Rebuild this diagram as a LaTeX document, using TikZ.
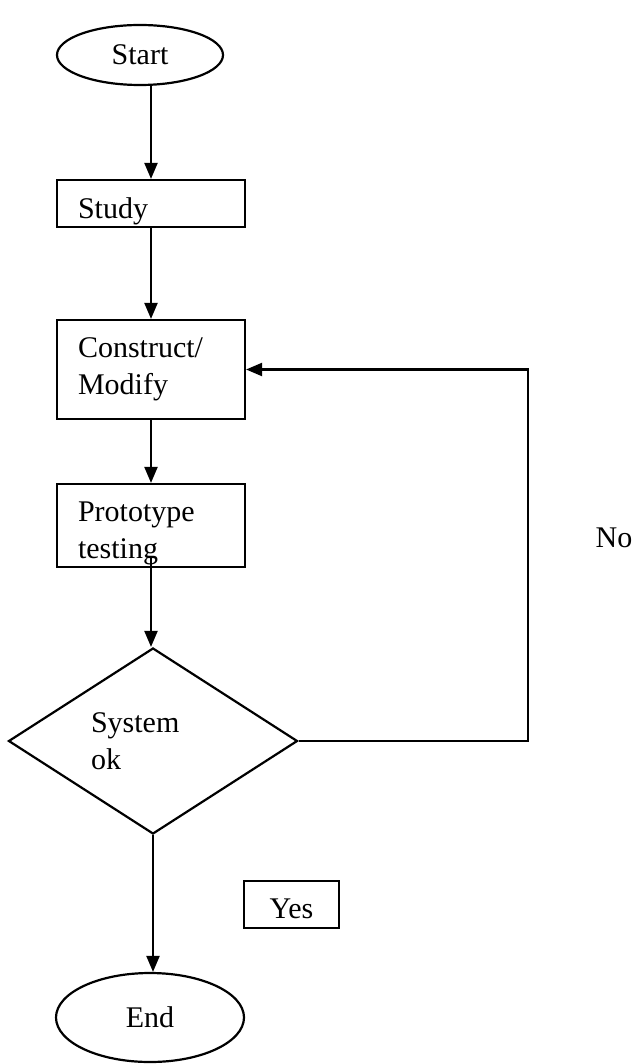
\documentclass[tikz,border=0pt]{standalone}
\usepackage{fontspec}
\setmainfont{Liberation Serif}
\usetikzlibrary{arrows.meta,shapes.geometric}

\begin{document}
\begin{tikzpicture}[->,>={Triangle[width=13pt,length=16pt]},x=1pt,y=-1pt,
  line width=2.2pt,every node/.style={font=\fontsize{30}{37}\selectfont},
  terminal/.style={ellipse,draw,inner sep=0pt},
  box/.style={rectangle,draw,minimum width=188pt,inner xsep=21pt,inner ysep=2pt,
    text width=146pt,align=left},
  decision/.style={diamond,draw,inner sep=0pt,shape aspect=1.55,
    minimum width=289pt,minimum height=186pt,text width=124pt,align=left}]

  \useasboundingbox (0,0) rectangle (638,1064);

  \node[terminal,minimum width=166pt,minimum height=60pt] (start) at (140,55) {Start};
  \node[box,minimum height=47pt,text height=36pt] (study) at (151,203.5) {Study};
  \node[box,minimum height=99pt] (construct) at (151,369.5) {Construct/\\Modify};
  \node[box,minimum height=83pt,text depth=27pt] (proto) at (151,525.5) {Prototype\\testing};
  \node[decision] (check) at (153,741) {System\\ok};
  \node[terminal,minimum width=188pt,minimum height=89pt] (end) at (150,1017.5) {End};
  \node[rectangle,draw,minimum width=95pt,minimum height=47pt,inner ysep=2pt,
    text height=29pt] (yes) at (291.5,904.5) {Yes};
  \node (no) at (614,538) {No};
  \coordinate (loop) at (528,369.5);

  \draw (start.south -| study.north) -- (study.north);
  \draw (study) -- (construct);
  \draw (construct) -- (proto);
  \draw ([yshift=12pt]proto.south) -- (proto.south |- check.north);
  \draw (check.south) -- (check.south |- end.north);
  \draw (check.east) -| (loop) -- (construct.east);
\end{tikzpicture}
\end{document}
